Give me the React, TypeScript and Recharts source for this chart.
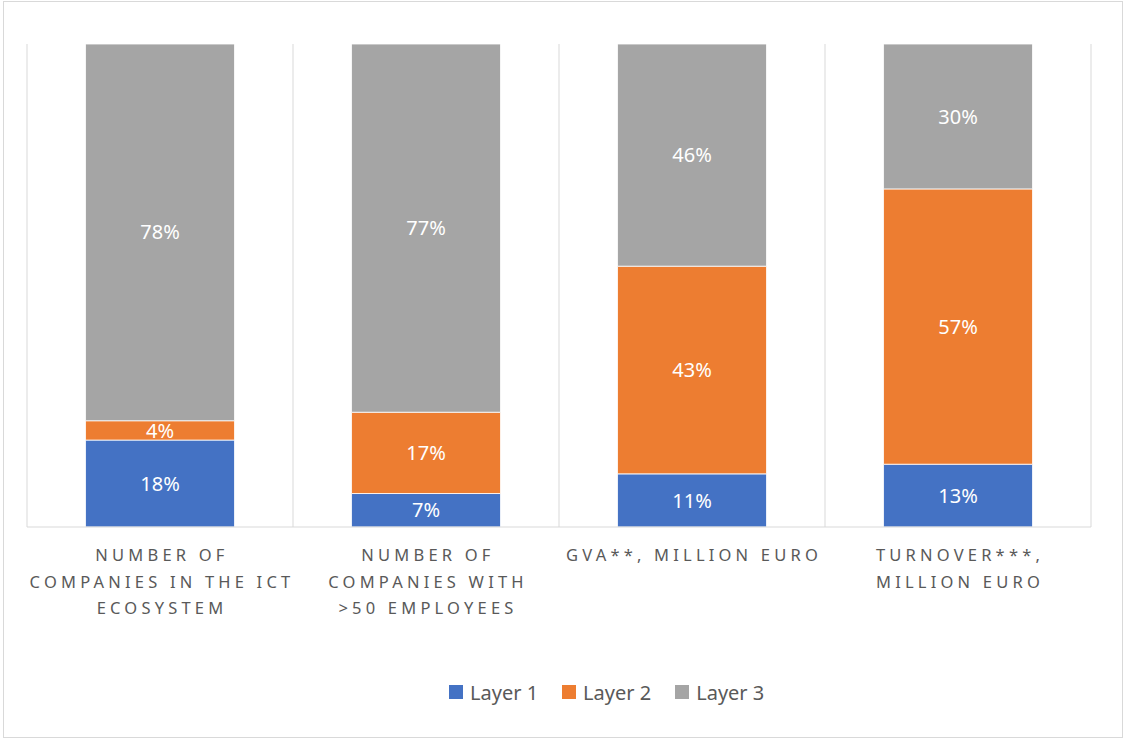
import React from 'react';
import { BarChart, Bar, XAxis, YAxis, CartesianGrid, Legend, LabelList } from 'recharts';

// categories and their wrapped tick labels
const categories = [
  'Number of companies in the ICT ecosystem',
  'Number of companies with >50 employees',
  'GVA**, million euro',
  'Turnover***, million euro',
];
const tickLines = [
  ['NUMBER OF', 'COMPANIES IN THE ICT', 'ECOSYSTEM'],
  ['NUMBER OF', 'COMPANIES WITH', '>50 EMPLOYEES'],
  ['GVA**, MILLION EURO'],
  ['TURNOVER***,', 'MILLION EURO'],
];

// shares in percent
const layer1 = [18, 7, 11, 13];
const layer2 = [4, 17, 43, 57];
const layer3 = [78, 77, 46, 30];

const seriesNames = ['Layer 1', 'Layer 2', 'Layer 3'];
const COLORS = ['#4472c4', '#ed7d31', '#a5a5a5'];

const data = categories.map((name, i) => ({
  name,
  l1: layer1[i],
  l2: layer2[i],
  l3: layer3[i],
}));

const FONT = '"Noto Sans", "Open Sans", sans-serif';

const CategoryTick = (props: any) => {
  const { x, y, payload } = props;
  const idx = categories.indexOf(payload.value);
  const lines = tickLines[idx] || [payload.value];
  return (
    <g transform={`translate(${x},${y})`}>
      {lines.map((line, i) => (
        <text
          key={i}
          x={2}
          y={0}
          dy={26 + i * 26.5}
          textAnchor="middle"
          fill="#595959"
          fontSize={16.5}
          fontFamily={FONT}
          style={{ letterSpacing: '4.2px' }}
        >
          {line}
        </text>
      ))}
    </g>
  );
};

const LegendContent = () => (
  <div style={{ display: 'flex', height: 24, alignItems: 'center', fontFamily: FONT, fontSize: 20, color: '#595959' }}>
    {seriesNames.map((n, i) => (
      <div key={n} style={{ display: 'flex', alignItems: 'center', marginRight: 24 }}>
        <span style={{ width: 14, height: 14, background: COLORS[i], marginRight: 7, display: 'inline-block' }} />
        <span>{n}</span>
      </div>
    ))}
  </div>
);

const pct = (v: any) => `${v}%`;

export default function App() {
  return (
    <div style={{ position: 'absolute', left: 0, top: 0, width: 1125, height: 740, background: '#fff' }}>
      <div
        style={{
          position: 'absolute',
          left: 3,
          top: 1,
          width: 1118,
          height: 735,
          border: '1px solid #d9d9d9',
        }}
      />
      <BarChart
        width={1125}
        height={740}
        data={data}
        stackOffset="expand"
        barCategoryGap="22%"
        margin={{ top: 44, right: 34, bottom: 0, left: 27 }}
      >
        <CartesianGrid
          horizontal={false}
          stroke="#d9d9d9"
          strokeWidth={1}
          verticalCoordinatesGenerator={({ offset }: any) =>
            categories.map((_, i) => offset.left + (i * offset.width) / categories.length).concat(offset.left + offset.width)
          }
        />
        <XAxis
          dataKey="name"
          interval={0}
          tickLine={false}
          axisLine={{ stroke: '#d9d9d9', strokeWidth: 1 }}
          height={189}
          tick={<CategoryTick />}
        />
        <YAxis hide domain={[0, 1]} />
        <Legend
          verticalAlign="bottom"
          content={<LegendContent />}
          wrapperStyle={{ top: 680, bottom: 'auto', left: 449, width: 'auto' }}
        />
        {['l1', 'l2', 'l3'].map((key, i) => (
          <Bar
            key={key}
            dataKey={key}
            name={seriesNames[i]}
            stackId="a"
            fill={COLORS[i]}
            stroke="#ffffff"
            strokeWidth={0.8}
            isAnimationActive={false}
          >
            <LabelList dataKey={key} position="center" formatter={pct} fill="#ffffff" fontSize={20} fontFamily={FONT} />
          </Bar>
        ))}
      </BarChart>
    </div>
  );
}
